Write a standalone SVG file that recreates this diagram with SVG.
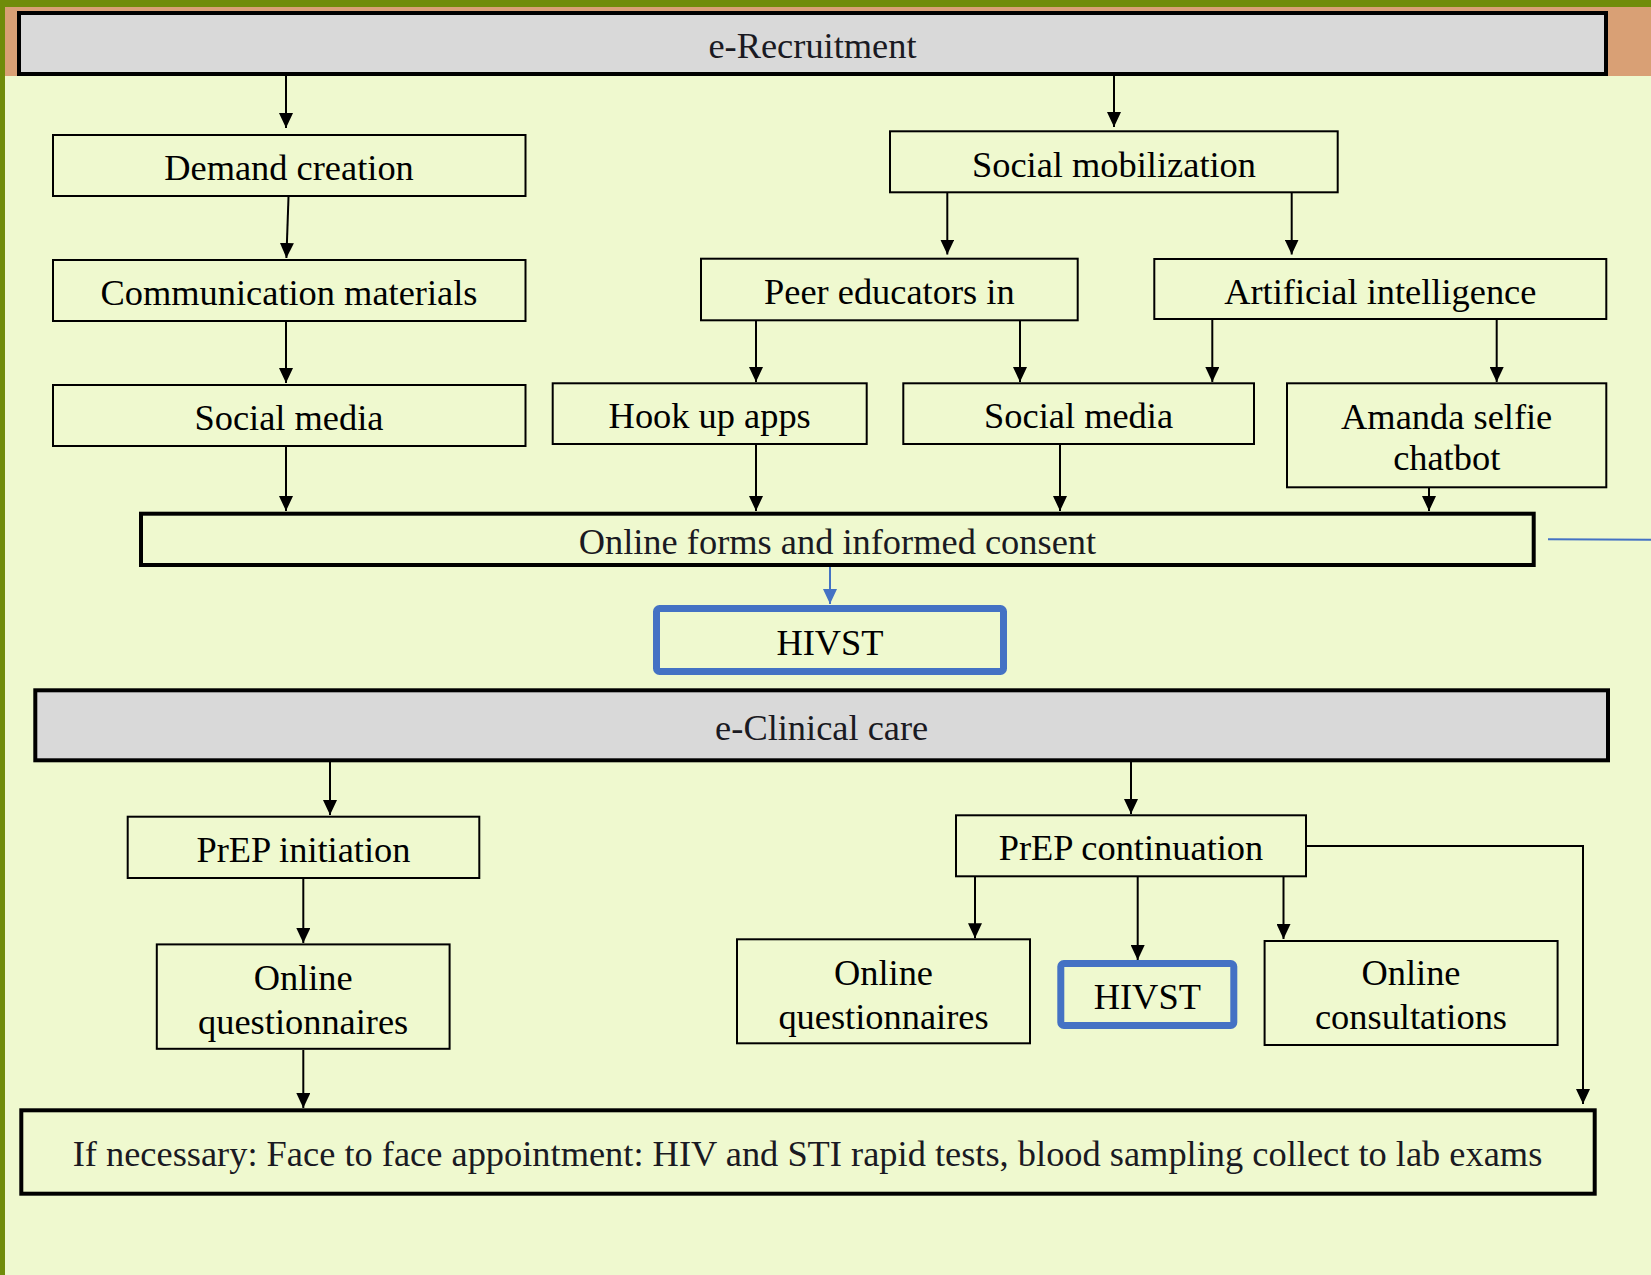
<svg xmlns="http://www.w3.org/2000/svg" width="1651" height="1275" viewBox="0 0 1651 1275">
<defs>
<marker id="ah" markerUnits="userSpaceOnUse" markerWidth="15" markerHeight="14" refX="15" refY="7" orient="auto"><path d="M0,0 L15,7 L0,14 z" fill="#000"/></marker>
<marker id="ahb" markerUnits="userSpaceOnUse" markerWidth="15" markerHeight="14" refX="15" refY="7" orient="auto"><path d="M0,0 L15,7 L0,14 z" fill="#4472C4"/></marker>
<style>
.box{fill:none;stroke:#000;stroke-width:2}
.thick{fill:none;stroke:#000;stroke-width:4}
.hdr{fill:#D9D9D9;stroke:#000;stroke-width:4}
.blue{fill:none;stroke:#4472C4;stroke-width:7}
.t{font-family:"Liberation Serif","Times New Roman",serif;font-size:36.4px;fill:#000;text-anchor:middle}
.td{fill:#1a1a22}
.c{stroke:#000;stroke-width:2;fill:none;marker-end:url(#ah)}
.cb{stroke:#4472C4;stroke-width:2;fill:none}
</style>
</defs>
<rect x="0" y="0" width="1651" height="1275" fill="#EFF9CF"/>
<rect x="0" y="0" width="1651" height="7" fill="#708C0A"/>
<rect x="5" y="7" width="1646" height="69" fill="#D9A075"/>
<rect x="0" y="0" width="5" height="1275" fill="#708C0A"/>

<g id="e-recruitment"><rect class="hdr" x="19" y="13" width="1587" height="61"/><text class="t td" x="812.5" y="58">e-Recruitment</text></g>
<g id="demand-creation"><rect class="box" x="53" y="135" width="472.5" height="61"/><text class="t" x="289" y="180">Demand creation</text></g>
<g id="communication-materials"><rect class="box" x="53" y="260" width="472.5" height="61"/><text class="t" x="289" y="305">Communication materials</text></g>
<g id="social-media-left"><rect class="box" x="53" y="385" width="472.5" height="61"/><text class="t" x="289" y="430">Social media</text></g>
<g id="social-mobilization"><rect class="box" x="890" y="131.3" width="447.7" height="61"/><text class="t" x="1114" y="177">Social mobilization</text></g>
<g id="peer-educators"><rect class="box" x="701" y="258.7" width="376.7" height="61.6"/><text class="t" x="889.3" y="304">Peer educators in</text></g>
<g id="artificial-intelligence"><rect class="box" x="1154.3" y="259" width="452" height="60"/><text class="t" x="1380.3" y="303.5">Artificial intelligence</text></g>
<g id="hook-up-apps"><rect class="box" x="552.7" y="383.3" width="314" height="60.7"/><text class="t" x="709.7" y="428">Hook up apps</text></g>
<g id="social-media-mid"><rect class="box" x="903.3" y="383.3" width="350.7" height="60.7"/><text class="t" x="1078.6" y="428">Social media</text></g>
<g id="amanda-chatbot"><rect class="box" x="1287" y="383.3" width="319.3" height="104"/><text class="t" x="1446.7" y="428.5">Amanda selfie</text><text class="t" x="1446.7" y="470">chatbot</text></g>
<g id="online-forms"><rect class="thick" x="141" y="513.7" width="1392.7" height="51.3"/><text class="t td" x="837.4" y="554">Online forms and informed consent</text></g>
<g id="hivst-top"><rect class="blue" x="656.5" y="608.5" width="347" height="63" rx="3"/><text class="t" x="830" y="654.5">HIVST</text></g>
<g id="e-clinical-care"><rect class="hdr" x="35.3" y="690.3" width="1572.7" height="70"/><text class="t td" x="821.7" y="739.5">e-Clinical care</text></g>
<g id="prep-initiation"><rect class="box" x="127.7" y="816.7" width="351.6" height="61.3"/><text class="t" x="303.5" y="861.5">PrEP initiation</text></g>
<g id="prep-continuation"><rect class="box" x="956" y="815.3" width="350" height="61"/><text class="t" x="1131" y="860">PrEP continuation</text></g>
<g id="online-questionnaires-left"><rect class="box" x="156.8" y="944.4" width="292.8" height="104.4"/><text class="t" x="303.2" y="990">Online</text><text class="t" x="303.2" y="1033.5">questionnaires</text></g>
<g id="online-questionnaires-mid"><rect class="box" x="737" y="939.3" width="293" height="104"/><text class="t" x="883.5" y="985">Online</text><text class="t" x="883.5" y="1028.5">questionnaires</text></g>
<g id="hivst-bottom"><rect class="blue" x="1060.8" y="963.5" width="173" height="62" rx="3"/><text class="t" x="1147.3" y="1008.5">HIVST</text></g>
<g id="online-consultations"><rect class="box" x="1264.6" y="941" width="293" height="104"/><text class="t" x="1411" y="985">Online</text><text class="t" x="1411" y="1028.5">consultations</text></g>
<g id="face-to-face"><rect class="thick" x="21.3" y="1110.3" width="1573.4" height="83.4"/><text class="t td" x="807.5" y="1165.5">If necessary: Face to face appointment: HIV and STI rapid tests, blood sampling collect to lab exams</text></g>

<g id="connectors">
<line class="c" x1="286" y1="76" x2="286" y2="128"/>
<line class="c" x1="1114" y1="76" x2="1114" y2="127"/>
<line class="c" x1="288.5" y1="197" x2="286.4" y2="258"/>
<line class="c" x1="286" y1="322" x2="286" y2="383"/>
<line class="c" x1="286" y1="447" x2="286" y2="511"/>
<line class="c" x1="947.3" y1="193" x2="947.3" y2="254.5"/>
<line class="c" x1="1291.7" y1="193" x2="1291.7" y2="254.5"/>
<line class="c" x1="756" y1="321" x2="756" y2="382"/>
<line class="c" x1="1020" y1="321" x2="1020" y2="382"/>
<line class="c" x1="1212.3" y1="320" x2="1212.3" y2="382"/>
<line class="c" x1="1496.7" y1="320" x2="1496.7" y2="382"/>
<line class="c" x1="756" y1="445" x2="756" y2="511"/>
<line class="c" x1="1060" y1="445" x2="1060" y2="511"/>
<line class="c" x1="1429" y1="488" x2="1429" y2="511"/>
<line class="cb" x1="830" y1="567" x2="830" y2="604" marker-end="url(#ahb)"/>
<line class="cb" x1="1548" y1="539.3" x2="1651" y2="539.8"/>
<line class="c" x1="330" y1="762" x2="330" y2="815"/>
<line class="c" x1="1131" y1="762" x2="1131" y2="814"/>
<line class="c" x1="303.3" y1="879" x2="303.3" y2="943"/>
<line class="c" x1="975" y1="877" x2="975" y2="938.3"/>
<line class="c" x1="1137.7" y1="877" x2="1137.7" y2="960"/>
<line class="c" x1="1283.5" y1="877" x2="1283.5" y2="939"/>
<polyline class="c" points="1307,846 1583,846 1583,1104"/>
<line class="c" x1="303.3" y1="1050" x2="303.3" y2="1108"/>
</g>
</svg>
